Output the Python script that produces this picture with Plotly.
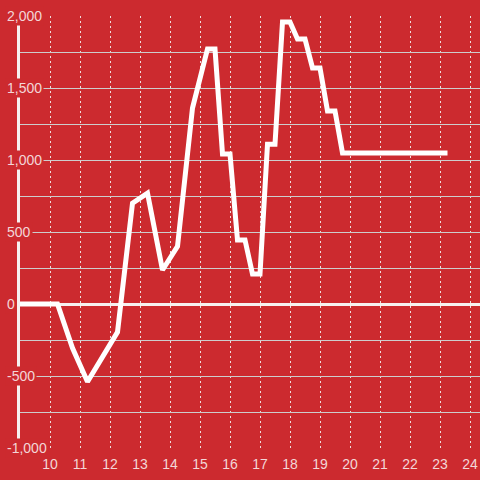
import plotly.graph_objects as go

# Data
x_vals = [9.0, 10.25, 10.75, 11.25, 12.25, 12.75, 13.25, 13.75, 14.25, 14.75,
          15.25, 15.5, 15.75, 16.0, 16.25, 16.5, 16.75, 17.0, 17.25, 17.5,
          17.75, 18.0, 18.25, 18.5, 18.75, 19.0, 19.25, 19.5, 19.75, 23.25]
y_vals = [0, 0, -306, -540, -195, 700, 770, 236, 400, 1361,
          1771, 1771, 1042, 1042, 444, 444, 208, 208, 1110, 1110,
          1958, 1958, 1840, 1840, 1639, 1639, 1340, 1340, 1049, 1049]
x_ticks = list(range(10, 25))
y_label_vals = [2000, 1500, 1000, 500, 0, -500, -1000]
y_label_text = ["2,000", "1,500", "1,000", "500", "0", "-500", "-1,000"]

BG = "#cc2a2f"
TXT = "#f3d6d7"
FONT = "Liberation Sans, Arial, sans-serif"

fig = go.Figure()
fig.add_trace(go.Scatter(
    x=x_vals, y=y_vals, mode="lines",
    line=dict(color="#ffffff", width=5),
    hoverinfo="skip", showlegend=False,
))

annotations = []
for v, t in zip(y_label_vals, y_label_text):
    annotations.append(dict(
        x=-0.033, xref="paper", y=v, yref="y",
        text=t, showarrow=False, xanchor="left", yanchor="middle",
        font=dict(family=FONT, size=14, color=TXT),
        bgcolor=BG, borderpad=1,
    ))

fig.update_layout(
    width=480, height=480,
    margin=dict(l=20, r=0, t=16, b=32, autoexpand=False),
    paper_bgcolor=BG, plot_bgcolor=BG,
    font=dict(family=FONT, size=14, color=TXT),
    annotations=annotations,
    showlegend=False,
)
fig.update_xaxes(
    range=[9.0, 24.3334], automargin=False,
    tickvals=x_ticks, ticktext=[str(v) for v in x_ticks],
    showgrid=True, gridcolor="#eedede", griddash="2px,3px", gridwidth=1,
    zeroline=False, showline=False,
    ticks="outside", ticklen=3, tickcolor="rgba(0,0,0,0)",
    tickfont=dict(family=FONT, size=14, color=TXT),
    fixedrange=True,
)
fig.update_yaxes(
    range=[-1000, 2000], dtick=250, tick0=0, automargin=False,
    showticklabels=False, ticks="",
    showgrid=True, gridcolor="#cdcdcd", gridwidth=1,
    zeroline=True, zerolinecolor="#f6f0f0", zerolinewidth=3,
    showline=True, linecolor="#f6f0f0", linewidth=3,
    fixedrange=True,
)

fig.write_html(
    "out.html",
    config={"displayModeBar": False, "staticPlot": True},
    post_script="document.body.style.margin='0';document.body.style.background='%s';" % BG,
)
